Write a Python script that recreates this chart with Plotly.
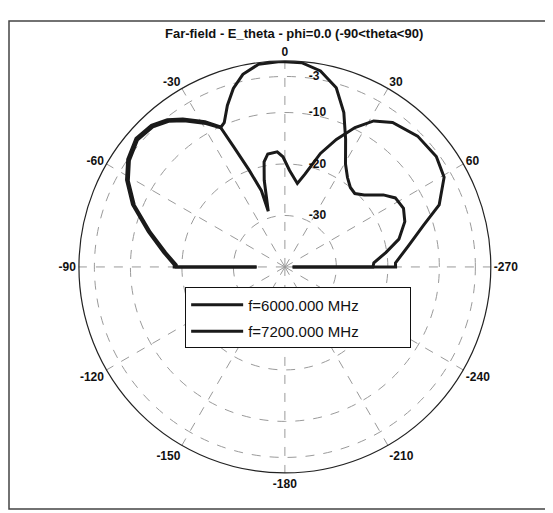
import plotly.graph_objects as go

# ---- data (theta in degrees, values in dB) ----
theta_6000 = [-90, -90, -88.9, -83.2, -75.5, -67.7, -61.2, -55.6, -49.2, -43.3, -38.6, -34.6, -28.8, -24.8,
              -22.8, -19.6, -16.1, -12.3, -7.4, -1.3, 4.7, 10.3, 16.0, 20.9, 25.4, 30.5, 35.0, 39.5, 43.6,
              47.8, 53.8, 58.0, 63.7, 69.3, 76.3, 81.9, 87.3, 90, 90]
db_6000 = [-34.5, -18.9, -18.9, -16.7, -13.0, -8.4, -5.3, -3.4, -2.2, -2.6, -3.8, -5.5, -8.2, -10.2,
           -9.6, -6.7, -3.9, -1.7, -0.3, -0.1, -0.2, -1.3, -3.8, -7.9, -12.5, -16.8, -18.8, -20.0, -20.3,
           -19.2, -16.3, -14.7, -14.3, -15.1, -17.2, -20.2, -22.7, -22.9, -38.5]

theta_7200 = [-90, -90, -88.9, -83.2, -75.5, -67.7, -61.2, -55.6, -49.2, -43.3, -38.6, -34.6, -28.8, -24.8,
              -23.1, -20.3, -17.1, -16.6, -13.4, -11.2, -8.6, -3.8, -1.0, 2.7, 8.5, 12.3, 17.4, 22.0,
              26.7, 31.3, 36.7, 45.4, 53.9, 60.6, 68.1, 73.3, 80.4, 87.9, 90, 90]
db_7200 = [-34.5, -18.5, -18.5, -16.3, -12.6, -8.0, -4.9, -3.0, -1.8, -2.2, -3.4, -5.1, -7.8, -10.0,
           -14.6, -19.9, -24.5, -28.7, -22.7, -19.2, -17.8, -17.6, -18.6, -21.2, -23.6, -21.5, -16.9, -13.3,
           -9.7, -6.8, -5.0, -3.8, -3.6, -4.5, -7.7, -11.9, -15.7, -18.5, -18.5, -38.5]

angle_ticks = [0, 30, 60, 90, 120, 150, 180, 210, 240, 270, 300, 330]
angle_labels = ["0", "30", "60", "-270", "-240", "-210", "-180", "-150", "-120", "-90", "-60", "-30"]
radial_ticks = [-3, -10, -20, -30]
radial_labels = ["-3", "-10", "-20", "-30"]

series = [("f=6000.000 MHz", theta_6000, db_6000), ("f=7200.000 MHz", theta_7200, db_7200)]

fig = go.Figure()
for i, (name, th, r) in enumerate(series):
    fig.add_trace(go.Scatterpolar(
        theta=th, r=r, mode="lines", name=name + "&nbsp;" * 11, legendgroup=f"g{i}",
        line=dict(color="#1a1a1a", width=3),
    ))

FONT = "Liberation Sans, Arial, sans-serif"
PAD = "&nbsp;" * 7

fig.update_layout(
    width=545, height=505,
    margin=dict(l=1, r=2, t=13, b=4),
    paper_bgcolor="white",
    font=dict(family=FONT, color="#111"),
    title=dict(text="Far-field - E_theta - phi=0.0 (-90&lt;theta&lt;90)",
               x=0.525, xanchor="center", y=0.95, yanchor="middle", yref="container",
               font=dict(size=13, weight="bold", family=FONT, color="#111")),
    polar=dict(
        domain=dict(x=[0.127, 0.891], y=[0.074, 0.918]),
        bgcolor="white",
        angularaxis=dict(
            rotation=90, direction="clockwise",
            tickmode="array", tickvals=angle_ticks, ticktext=angle_labels,
            showline=True, linecolor="#222", linewidth=1.2,
            showgrid=True, gridcolor="#9a9a9a", gridwidth=0.8, griddash="dash",
            ticks="", tickfont=dict(size=12, weight="bold", family=FONT, color="#111"),
        ),
        radialaxis=dict(
            range=[-40, 0], angle=90, tickangle=90,
            tickmode="array", tickvals=radial_ticks,
            ticktext=[PAD + t for t in radial_labels],
            showline=False, ticks="",
            showgrid=True, gridcolor="#9a9a9a", gridwidth=0.8, griddash="dash",
            tickfont=dict(size=12, weight="bold", family=FONT, color="#111"),
        ),
    ),
    showlegend=True,
    legend=dict(
        x=0.325, y=0.454, xanchor="left", yanchor="top",
        bgcolor="white", bordercolor="#111", borderwidth=1,
        font=dict(size=15, family=FONT, color="#111"),
        traceorder="grouped", tracegroupgap=4,
        itemwidth=52,
    ),
    shapes=[dict(type="rect", xref="paper", yref="paper", x0=0, y0=0, x1=1, y1=1,
                 line=dict(color="#444", width=1.5), fillcolor="rgba(0,0,0,0)")],
)

fig.write_html("out.html")
